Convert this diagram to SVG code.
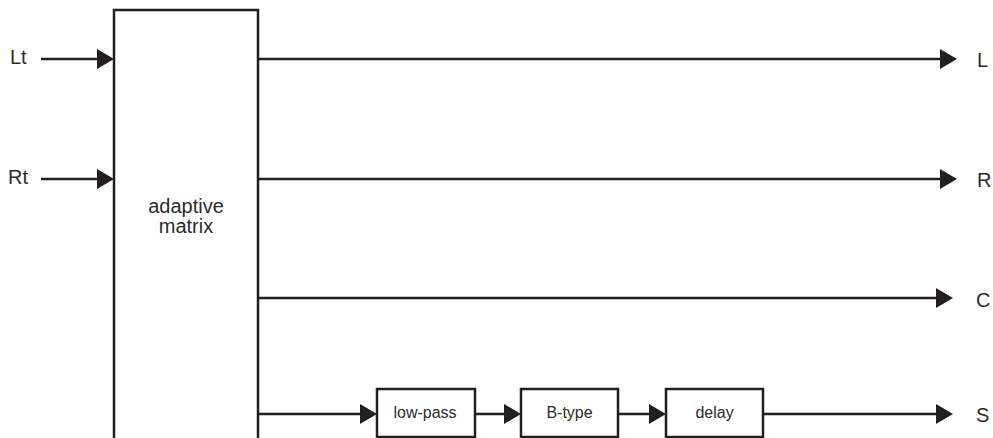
<svg xmlns="http://www.w3.org/2000/svg" width="993" height="438" viewBox="0 0 993 438">
<style>
.box{fill:#fff;stroke:#231f20;stroke-width:2.5}
.ln{stroke:#231f20;stroke-width:2.5;fill:none}
.ah{fill:#231f20}
.t{font-family:"Liberation Sans",Arial,sans-serif;fill:#2b2b2b}
.big{font-size:20px}
.sm{font-size:16px}
</style>
<rect width="993" height="438" fill="#fff"/>
<g id="connectors">
<line class="ln" x1="41" y1="59" x2="100" y2="59"/>
<polygon class="ah" points="97,49 114,59 97,69"/>
<line class="ln" x1="41" y1="179" x2="100" y2="179"/>
<polygon class="ah" points="97,169 114,179 97,189"/>
<line class="ln" x1="258" y1="59" x2="942" y2="59"/>
<polygon class="ah" points="940,49 957,59 940,69"/>
<line class="ln" x1="258" y1="179" x2="942" y2="179"/>
<polygon class="ah" points="940,169 957,179 940,189"/>
<line class="ln" x1="258" y1="298" x2="938" y2="298"/>
<polygon class="ah" points="936,288 953,298 936,308"/>
<line class="ln" x1="258" y1="414" x2="363" y2="414"/>
<polygon class="ah" points="360,404 377,414 360,424"/>
<line class="ln" x1="475" y1="414" x2="506" y2="414"/>
<polygon class="ah" points="504,404 521,414 504,424"/>
<line class="ln" x1="618" y1="414" x2="651" y2="414"/>
<polygon class="ah" points="649,404 666,414 649,424"/>
<line class="ln" x1="763" y1="414" x2="938" y2="414"/>
<polygon class="ah" points="936,404 953,414 936,424"/>
</g>
<g id="matrix">
<path class="box" d="M114,445 V10 H258 V445"/>
<text class="t big" x="186" y="213" text-anchor="middle">adaptive</text>
<text class="t big" x="186" y="233" text-anchor="middle">matrix</text>
</g>
<g id="lowpass">
<rect class="box" x="377" y="389" width="98" height="48"/>
<text class="t sm" x="425" y="418" text-anchor="middle">low-pass</text>
</g>
<g id="btype">
<rect class="box" x="521" y="389" width="97" height="48"/>
<text class="t sm" x="569.5" y="418" text-anchor="middle">B-type</text>
</g>
<g id="delay">
<rect class="box" x="666" y="389" width="97" height="48"/>
<text class="t sm" x="714.5" y="418" text-anchor="middle">delay</text>
</g>
<g id="labels">
<text class="t big" x="10" y="64">Lt</text>
<text class="t big" x="8" y="184">Rt</text>
<text class="t big" x="977" y="67">L</text>
<text class="t big" x="977" y="187">R</text>
<text class="t big" x="976" y="307">C</text>
<text class="t big" x="976" y="422">S</text>
</g>
</svg>
